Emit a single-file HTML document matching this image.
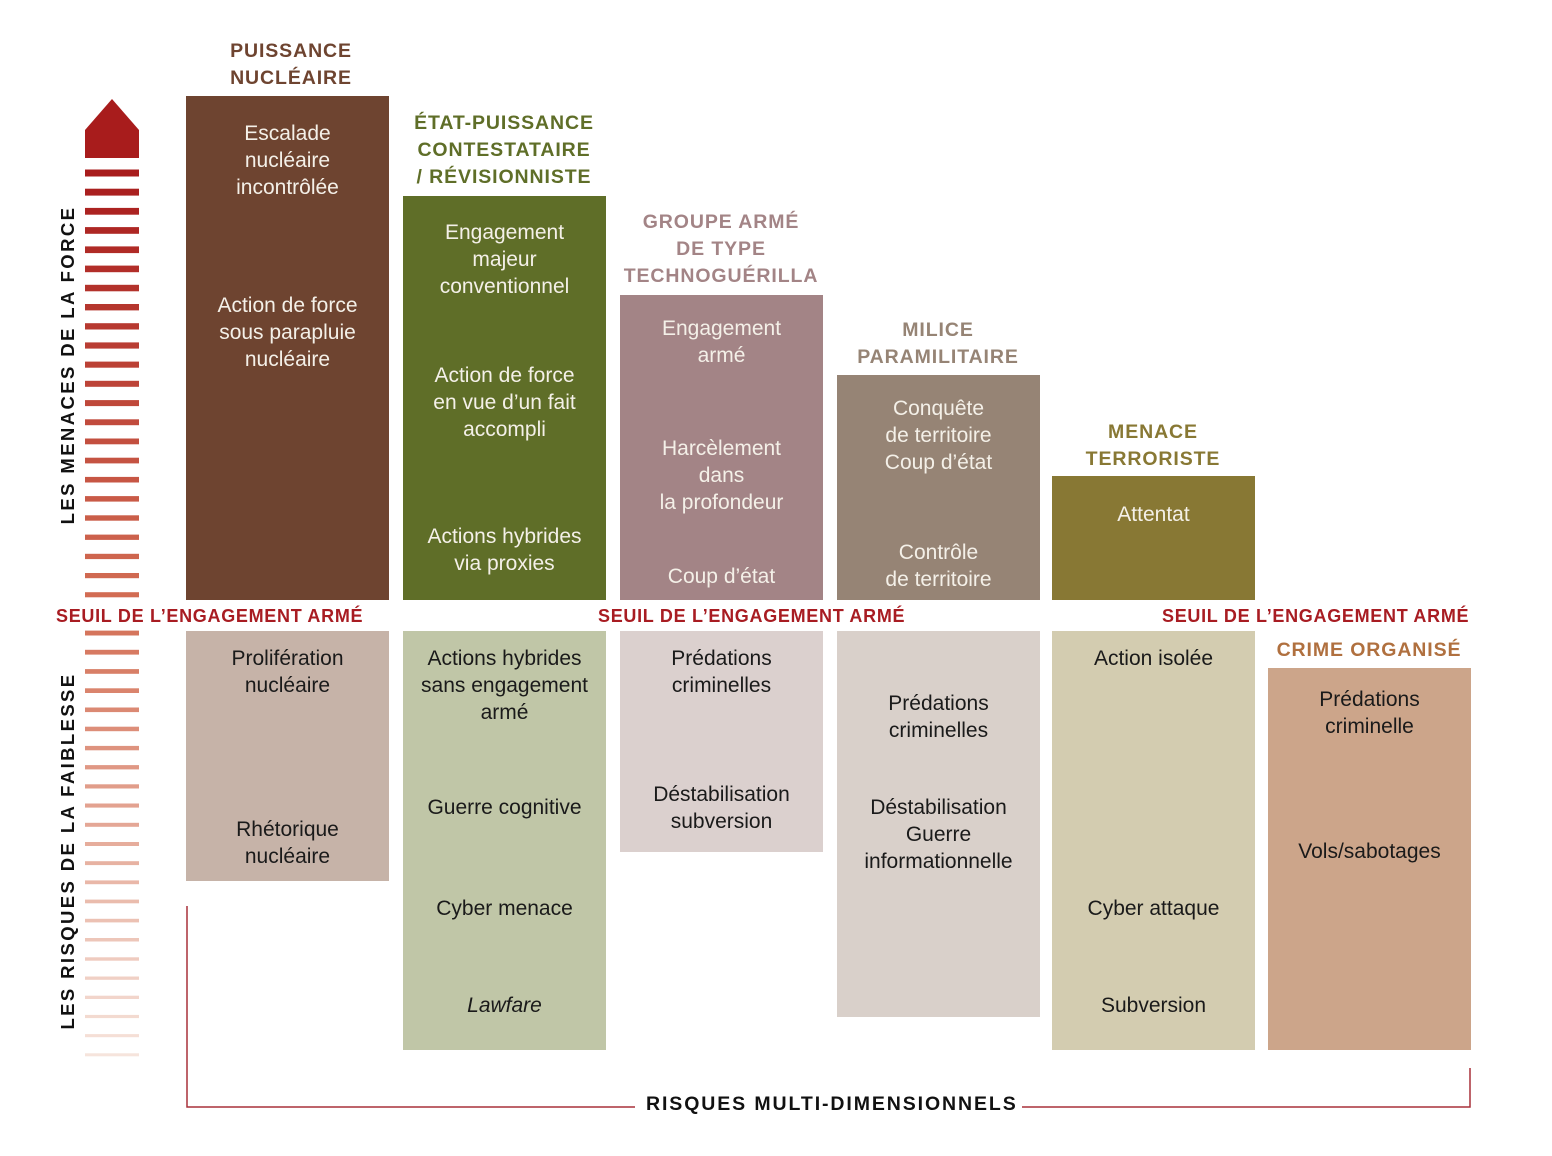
<!DOCTYPE html>
<html><head><meta charset="utf-8"><style>
html,body{margin:0;padding:0;background:#fff;}
#c{position:relative;width:1552px;height:1156px;overflow:hidden;font-family:"Liberation Sans",sans-serif;}
.b{position:absolute;}
.t{position:absolute;width:203px;text-align:center;font-size:21px;line-height:27px;color:#f4f0e8;}
.d{color:#1a1a1a;}
.h{position:absolute;width:240px;text-align:center;font-size:19.5px;line-height:27px;font-weight:bold;letter-spacing:0.9px;}
.s{position:absolute;font-size:18px;font-weight:bold;color:#a81c22;letter-spacing:0.7px;line-height:22px;white-space:nowrap;}
.v{position:absolute;font-size:18.5px;font-weight:bold;letter-spacing:2.4px;color:#111;white-space:nowrap;transform:translate(-50%,-50%) rotate(-90deg);}
</style></head><body><div id="c">
<svg width="1552" height="1156" style="position:absolute;left:0;top:0" id="sv">
<polygon points="85,130 112,99 139,130 139,158 85,158" fill="#a81c1c"/>
<g id="st"></g>
<polyline points="187,906 187,1107 635,1107" fill="none" stroke="#a8303a" stroke-width="1.5"/>
<polyline points="1022,1107 1470,1107 1470,1068" fill="none" stroke="#a8303a" stroke-width="1.5"/>
</svg>
<script>
(function(){var g=document.getElementById('st'),h='';
var c0=[168,28,28],cm=[212,112,86],c1=[246,228,220];
function mix(a,b,f){return [0,1,2].map(function(k){return Math.round(a[k]+(b[k]-a[k])*f);});}
for(var i=0;i<47;i++){var y=173+i*19.17;if(y>605&&y<625)continue;var f=i/46;
var c=f<0.5?mix(c0,cm,f/0.5):mix(cm,c1,(f-0.5)/0.5);
var th=7-4*f;h+='<rect x="85" y="'+(y-th/2).toFixed(1)+'" width="54" height="'+th.toFixed(1)+'" fill="rgb('+c.join(',')+')"/>';}
g.innerHTML=h;})();
</script>
<div class="v" style="left:68px;top:365px">LES MENACES DE LA FORCE</div>
<div class="v" style="left:68px;top:851px">LES RISQUES DE LA FAIBLESSE</div>

<div class="b" style="left:186px;top:96px;width:203px;height:504px;background:#6e4430"></div>
<div class="b" style="left:403px;top:196px;width:203px;height:404px;background:#5f6e28"></div>
<div class="b" style="left:620px;top:295px;width:203px;height:305px;background:#a38486"></div>
<div class="b" style="left:837px;top:375px;width:203px;height:225px;background:#968475"></div>
<div class="b" style="left:1052px;top:476px;width:203px;height:124px;background:#887834"></div>

<div class="b" style="left:186px;top:631px;width:203px;height:250px;background:#c6b3a8"></div>
<div class="b" style="left:403px;top:631px;width:203px;height:419px;background:#c0c6a7"></div>
<div class="b" style="left:620px;top:631px;width:203px;height:221px;background:#dbd0ce"></div>
<div class="b" style="left:837px;top:631px;width:203px;height:386px;background:#d9d0ca"></div>
<div class="b" style="left:1052px;top:631px;width:203px;height:419px;background:#d3ccb0"></div>
<div class="b" style="left:1268px;top:668px;width:203px;height:382px;background:#cca58a"></div>

<div class="h" style="left:171px;top:38px;color:#6e4430">PUISSANCE<br>NUCLÉAIRE</div>
<div class="h" style="left:384px;top:110px;color:#5f6e28">ÉTAT-PUISSANCE<br>CONTESTATAIRE<br>/ RÉVISIONNISTE</div>
<div class="h" style="left:601px;top:209px;color:#a38486">GROUPE ARMÉ<br>DE TYPE<br>TECHNOGUÉRILLA</div>
<div class="h" style="left:818px;top:317px;color:#968475">MILICE<br>PARAMILITAIRE</div>
<div class="h" style="left:1033px;top:419px;color:#887834">MENACE<br>TERRORISTE</div>
<div class="h" style="left:1249px;top:637px;color:#b0703f">CRIME ORGANISÉ</div>

<div class="t" style="left:186px;top:120px">Escalade<br>nucléaire<br>incontrôlée</div>
<div class="t" style="left:186px;top:292px">Action de force<br>sous parapluie<br>nucléaire</div>
<div class="t d" style="left:186px;top:645px">Prolifération<br>nucléaire</div>
<div class="t d" style="left:186px;top:816px">Rhétorique<br>nucléaire</div>

<div class="t" style="left:403px;top:219px">Engagement<br>majeur<br>conventionnel</div>
<div class="t" style="left:403px;top:362px">Action de force<br>en vue d’un fait<br>accompli</div>
<div class="t" style="left:403px;top:523px">Actions hybrides<br>via proxies</div>
<div class="t d" style="left:403px;top:645px">Actions hybrides<br>sans engagement<br>armé</div>
<div class="t d" style="left:403px;top:794px">Guerre cognitive</div>
<div class="t d" style="left:403px;top:895px">Cyber menace</div>
<div class="t d" style="left:403px;top:992px;font-style:italic">Lawfare</div>

<div class="t" style="left:620px;top:315px">Engagement<br>armé</div>
<div class="t" style="left:620px;top:435px">Harcèlement<br>dans<br>la profondeur</div>
<div class="t" style="left:620px;top:563px">Coup d’état</div>
<div class="t d" style="left:620px;top:645px">Prédations<br>criminelles</div>
<div class="t d" style="left:620px;top:781px">Déstabilisation<br>subversion</div>

<div class="t" style="left:837px;top:395px">Conquête<br>de territoire<br>Coup d’état</div>
<div class="t" style="left:837px;top:539px">Contrôle<br>de territoire</div>
<div class="t d" style="left:837px;top:690px">Prédations<br>criminelles</div>
<div class="t d" style="left:837px;top:794px">Déstabilisation<br>Guerre<br>informationnelle</div>

<div class="t" style="left:1052px;top:501px">Attentat</div>
<div class="t d" style="left:1052px;top:645px">Action isolée</div>
<div class="t d" style="left:1052px;top:895px">Cyber attaque</div>
<div class="t d" style="left:1052px;top:992px">Subversion</div>

<div class="t d" style="left:1268px;top:686px">Prédations<br>criminelle</div>
<div class="t d" style="left:1268px;top:838px">Vols/sabotages</div>

<div class="s" style="left:56px;top:605px">SEUIL DE L’ENGAGEMENT ARMÉ</div>
<div class="s" style="left:598px;top:605px">SEUIL DE L’ENGAGEMENT ARMÉ</div>
<div class="s" style="left:1162px;top:605px">SEUIL DE L’ENGAGEMENT ARMÉ</div>
<div class="s" style="left:646px;top:1093px;color:#111;font-size:19.5px;letter-spacing:1.9px">RISQUES MULTI-DIMENSIONNELS</div>
</div></body></html>
